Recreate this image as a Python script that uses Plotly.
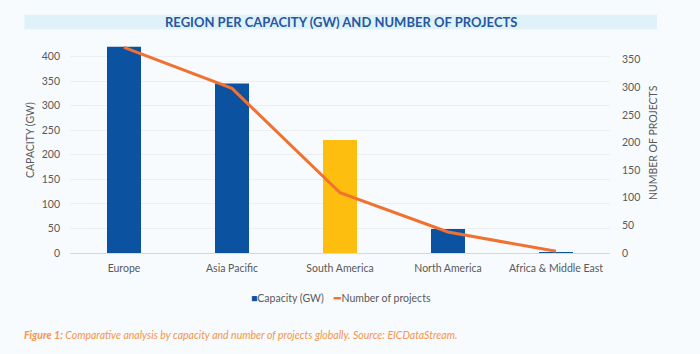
import plotly.graph_objects as go

regions = ["Europe", "Asia Pacific", "South America", "North America", "Africa & Middle East"]
capacity_gw = [420, 345, 230, 49, 2]
num_projects = [372, 298, 109, 38, 3]
bar_colors = ["#0b52a0", "#0b52a0", "#fdbe10", "#0b52a0", "#0b52a0"]

left_ticks = [0, 50, 100, 150, 200, 250, 300, 350, 400]
right_ticks = [0, 50, 100, 150, 200, 250, 300, 350]

FONT = "Lato"
GREY = "#595959"

fig = go.Figure()
fig.add_trace(go.Bar(
    x=regions, y=capacity_gw, name="Capacity (GW)",
    marker=dict(color=bar_colors, line=dict(width=0)),
    yaxis="y",
))
fig.add_trace(go.Scatter(
    x=regions, y=num_projects, name="Number of projects",
    mode="lines", line=dict(color="#f07130", width=3),
    yaxis="y2",
))

fig.update_layout(
    width=700, height=354,
    margin=dict(l=70, r=90, t=32, b=101),
    paper_bgcolor="#f7fbfd", plot_bgcolor="#f7fbfd",
    font=dict(family=FONT, size=10.5, color=GREY),
    bargap=0.685,
    showlegend=False,
    xaxis=dict(showgrid=False, showline=True, linecolor="#d9d9d9", linewidth=1,
               tickfont=dict(size=10.5, color=GREY), ticks="", zeroline=False,
               ticklabelstandoff=5),
    yaxis=dict(range=[0, 450], tickvals=left_ticks, showgrid=True, gridcolor="#eceff2",
               zeroline=False, showline=False, tickfont=dict(size=10.5, color=GREY),
               ticklabelstandoff=9),
    yaxis2=dict(range=[0, 400], tickvals=right_ticks, overlaying="y", side="right",
                showgrid=False, zeroline=False, showline=False,
                tickfont=dict(size=10.5, color=GREY), ticklabelstandoff=11),
)

# title band
fig.add_shape(type="rect", xref="paper", yref="paper", x0=-0.0843, x1=1.087,
              y0=1.012, y1=1.078, fillcolor="#dff2fa", line=dict(width=0), layer="below")
fig.add_annotation(text="<b>REGION PER CAPACITY (GW) AND NUMBER OF PROJECTS</b>",
                   xref="paper", yref="paper",
                   x=(341 - 70) / 540, xanchor="center", y=1.045, yanchor="middle",
                   showarrow=False, font=dict(family=FONT, size=13, color="#2856a0"))
# axis titles
fig.add_annotation(text="CAPACITY (GW)", xref="paper", yref="paper",
                   x=(30 - 70) / 540, xanchor="center", y=(253 - 140) / 221, yanchor="middle",
                   textangle=-90, showarrow=False, font=dict(family=FONT, size=10.5, color=GREY))
fig.add_annotation(text="NUMBER OF PROJECTS", xref="paper", yref="paper",
                   x=(653 - 70) / 540, xanchor="center", y=(253 - 143) / 221, yanchor="middle",
                   textangle=-90, showarrow=False, font=dict(family=FONT, size=10.5, color=GREY))
# legend
fig.add_annotation(text="<span style='color:#0b52a0'>■</span>Capacity (GW)    "
                        "<span style='color:#f07130'><b>━</b></span>Number of projects",
                   xref="paper", yref="paper", x=(341 - 70) / 540, xanchor="center",
                   y=(253 - 298) / 221, yanchor="middle", showarrow=False,
                   font=dict(family=FONT, size=10.5, color=GREY))
# caption
fig.add_annotation(text="<b><i>Figure 1:</i></b><i> Comparative analysis by capacity and number of projects globally. Source: EICDataStream.</i>",
                   xref="paper", yref="paper", x=(22 - 70) / 540, xanchor="left",
                   y=(253 - 335) / 221, yanchor="middle",
                   showarrow=False, font=dict(family=FONT, size=10.5, color="#f5944a"))

fig.write_html("out.html")
